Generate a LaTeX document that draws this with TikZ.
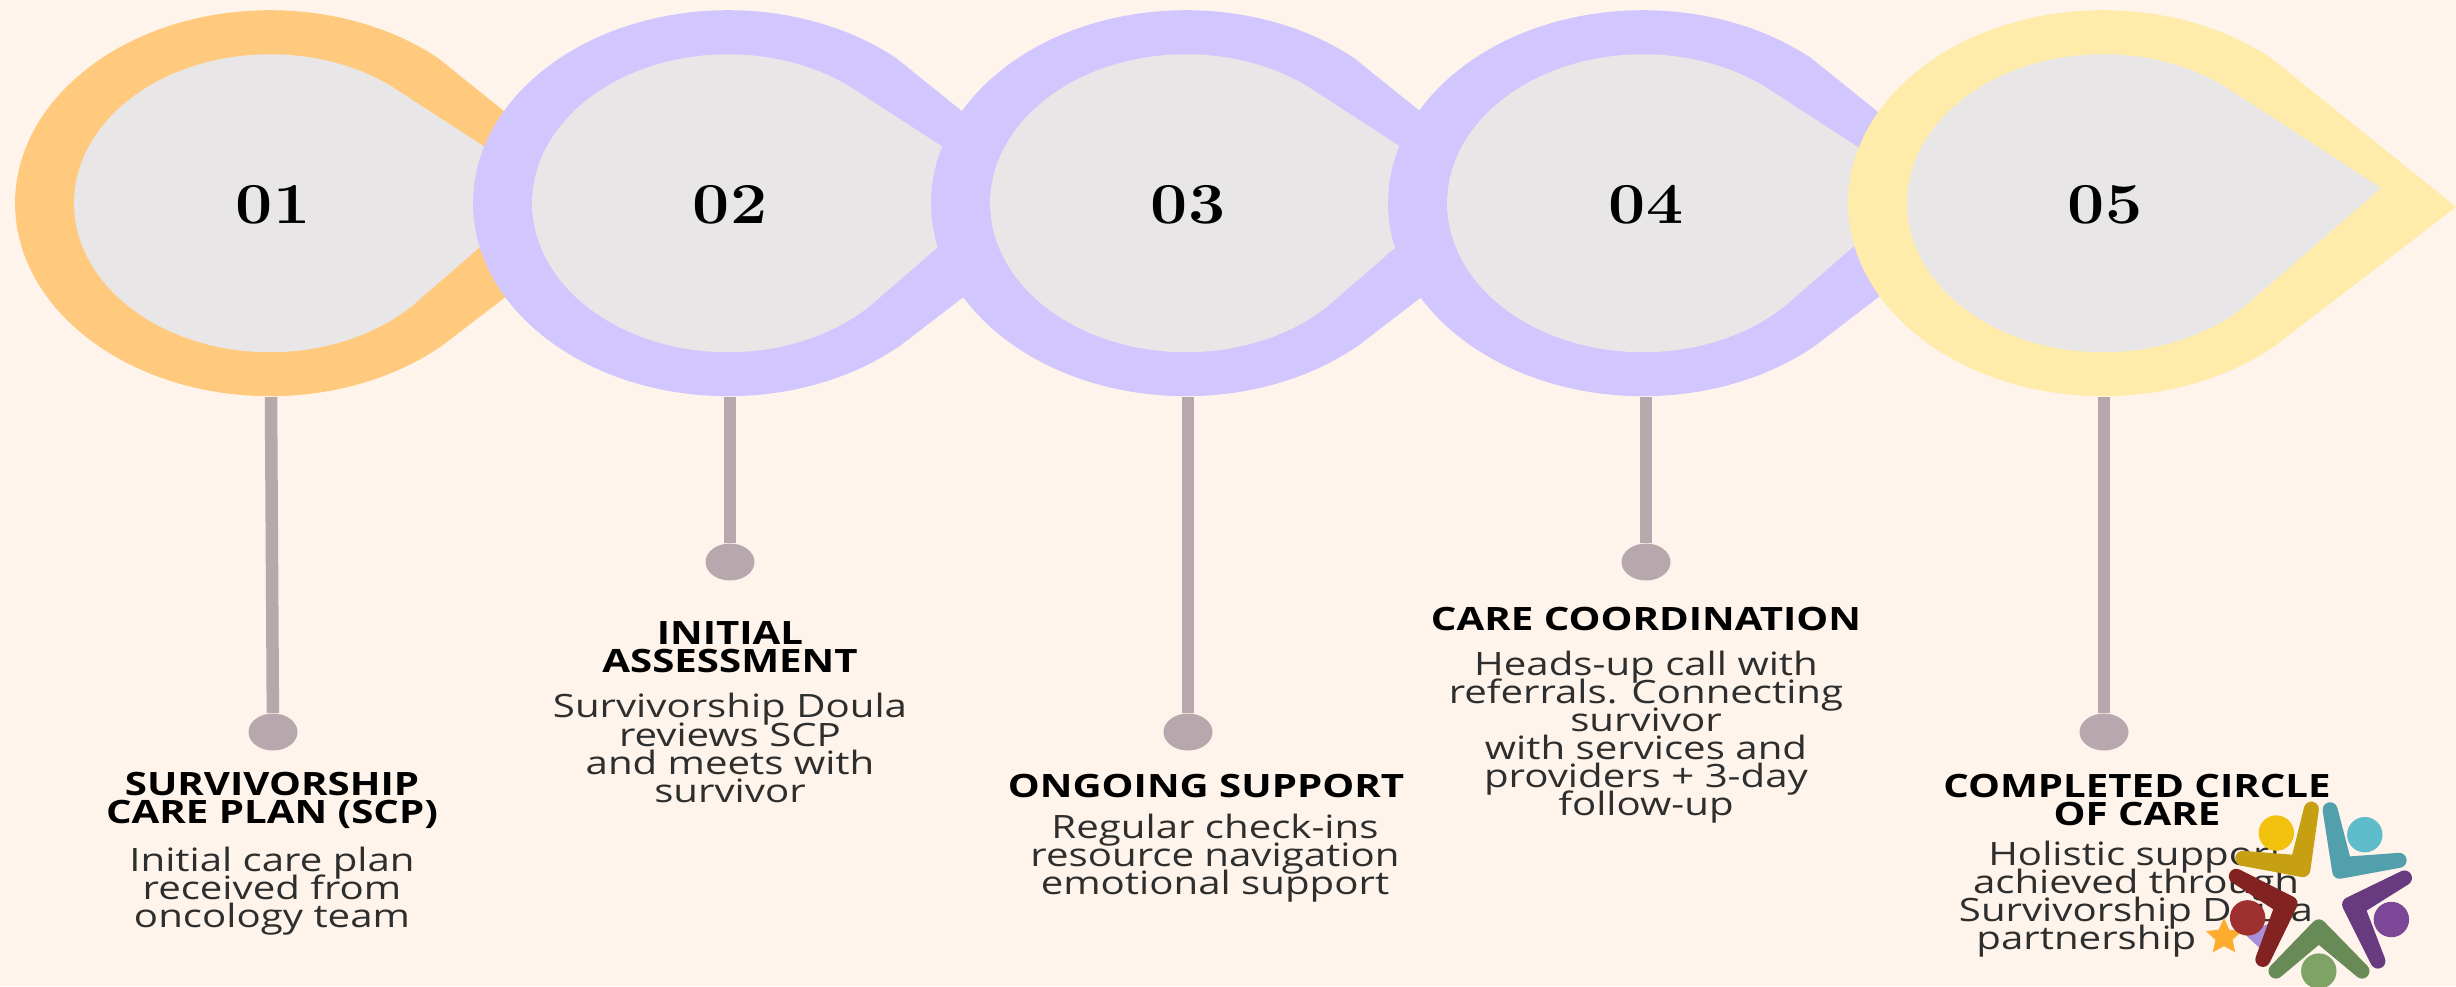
\documentclass[tikz,border=0pt]{standalone}
\usepackage{fontspec}
\usetikzlibrary{shapes.geometric}
\newfontfamily\labelfont{Open Sans}
\newcommand{\tightlines}{\setlength{\lineskiplimit}{-20pt}}
\definecolor{pagebg}{HTML}{FEF4EB}
\definecolor{faceclr}{HTML}{E8E6E6}
\definecolor{orangeclr}{HTML}{FFCA7D}
\definecolor{lilacclr}{HTML}{D2C6FE}
\definecolor{yellowclr}{HTML}{FFECAB}
\definecolor{stemclr}{HTML}{B7A8AE}
\definecolor{goldarm}{HTML}{C79F12}
\definecolor{goldhead}{HTML}{F2C10E}
\definecolor{tealarm}{HTML}{52A0AC}
\definecolor{tealhead}{HTML}{5FBCCB}
\definecolor{plumarm}{HTML}{683A80}
\definecolor{plumhead}{HTML}{7C4797}
\definecolor{greenarm}{HTML}{678A56}
\definecolor{greenhead}{HTML}{7FA266}
\definecolor{redarm}{HTML}{822322}
\definecolor{redhead}{HTML}{9E3030}
\definecolor{heartclr}{HTML}{A98FD8}
\definecolor{starclr}{HTML}{FFAB2E}

\tikzset{
  pics/dropshape/.style={code={
    \fill[#1] (3.53,-0.04) -- (1.68,1.45) arc[start angle=48.8, end angle=312.7, x radius=2.55, y radius=1.93] -- cycle;
    \fill[faceclr] (2.78,0.15) -- (1.21,1.17) arc[start angle=51.9, end angle=316.4, x radius=1.96, y radius=1.49] -- cycle;
  }},
  numlabel/.style={xscale=1.14, font=\fontsize{16.5}{16.5}\selectfont\bfseries, text=black},
  headlabel/.style={xscale=1.25, align=center, inner sep=0pt, text=black,
    font=\labelfont\fontsize{9.15}{8}\selectfont\bfseries\tightlines},
  bodylabel/.style={xscale=1.25, align=center, inner sep=0pt, text=black!82,
    font=\labelfont\fontsize{9.15}{8}\selectfont\tightlines},
  dotend/.style={ellipse, fill=stemclr, minimum width=0.49cm, minimum height=0.37cm, inner sep=0pt},
  stemline/.style={draw=stemclr, line width=0.125cm},
  logoarm/.style={line width=0.15cm, line join=round},
  logohead/.style={x radius=0.177cm, y radius=0.177cm},
}

\begin{document}
\begin{tikzpicture}
  \fill[pagebg] (0,0) rectangle (24.56,9.86);
  \useasboundingbox (0,0) rectangle (24.56,9.86);

  \pic at (2.70,7.83) {dropshape=orangeclr};
  \pic at (7.28,7.83) {dropshape=lilacclr};
  \pic at (11.86,7.83) {dropshape=lilacclr};
  \pic at (16.43,7.83) {dropshape=lilacclr};
  \pic at (21.03,7.83) {dropshape=yellowclr};

  \node[numlabel] (n1) at (2.73,7.81) {01};
  \node[numlabel] (n2) at (7.30,7.81) {02};
  \node[numlabel] (n3) at (11.88,7.81) {03};
  \node[numlabel] (n4) at (16.46,7.81) {04};
  \node[numlabel] (n5) at (21.05,7.81) {05};

  % stems
  \coordinate (t1) at (2.71,5.89);
  \coordinate (t2) at (7.30,5.89);
  \coordinate (t3) at (11.88,5.89);
  \coordinate (t4) at (16.46,5.89);
  \coordinate (t5) at (21.04,5.89);
  \node[dotend] (d1) at (2.73,2.54) {};
  \node[dotend] (d2) at (7.30,4.24) {};
  \node[dotend] (d3) at (11.88,2.54) {};
  \node[dotend] (d4) at (16.46,4.24) {};
  \node[dotend] (d5) at (21.04,2.54) {};
  \draw[stemline] (t1) -- (d1);
  \draw[stemline] (t2) -- (d2);
  \draw[stemline] (t3) -- (d3);
  \draw[stemline] (t4) -- (d4);
  \draw[stemline] (t5) -- (d5);

  % labels
  \node[headlabel] (h1) at (2.72,1.86) {SURVIVORSHIP\\CARE PLAN (SCP)};
  \node[bodylabel] (b1) at (2.72,0.95) {Initial care plan\\received from\\oncology team};
  \node[headlabel] (h2) at (7.30,3.39) {INITIAL\\ASSESSMENT};
  \node[bodylabel] (b2) at (7.30,2.38) {Survivorship Doula\\reviews SCP\\and meets with\\survivor};
  \node[headlabel] (h3) at (12.06,2.00) {ONGOING SUPPORT};
  \node[bodylabel] (b3) at (12.15,1.28) {Regular check-ins\\resource navigation\\emotional support};
  \node[headlabel] (h4) at (16.46,3.67) {CARE COORDINATION};
  \node[bodylabel] (b4) at (16.46,2.49) {Heads-up call with\\referrals. Connecting\\survivor\\with services and\\providers + 3-day\\follow-up};
  \node[headlabel] (h5) at (21.37,1.86) {COMPLETED CIRCLE\\OF CARE};
  \node[bodylabel] (b5) at (21.36,0.87) {Holistic support\\achieved through\\Survivorship Doula\\partnership\phantom{ MM}\hspace*{0.13cm}};
  \node[star, star points=5, star point ratio=2.1, fill=starclr, minimum size=0.38cm, inner sep=0pt] (s5) at (22.24,0.49) {};

  % logo
  \begin{scope}[shift={(19.00,2.86)}, x=0.003546cm, y=-0.003333cm]
    \fill[heartclr] (975,705) -- (1045,670) -- (1015,745) -- cycle;
    \filldraw[logoarm, goldarm] (1162,328) -- (1138,510) -- (968,476) -- (1124,489) -- cycle;
    \fill[goldhead] (1063,400) ellipse [logohead];
    \filldraw[logoarm, tealarm] (1215,330) -- (1242,515) -- (1410,482) -- (1255,494) -- cycle;
    \fill[tealhead] (1313,405) ellipse [logohead];
    \filldraw[logoarm, plumarm] (1425,535) -- (1270,615) -- (1350,785) -- (1292,624) -- cycle;
    \fill[plumhead] (1388,660) ellipse [logohead];
    \filldraw[logoarm, greenarm] (1062,815) -- (1183,682) -- (1305,815) -- (1183,707) -- cycle;
    \fill[greenhead] (1183,815) ellipse [logohead];
    \filldraw[logoarm, redarm] (950,530) -- (1102,612) -- (1025,780) -- (1080,620) -- cycle;
    \fill[redhead] (982,655) ellipse [logohead];
  \end{scope}
\end{tikzpicture}
\end{document}
